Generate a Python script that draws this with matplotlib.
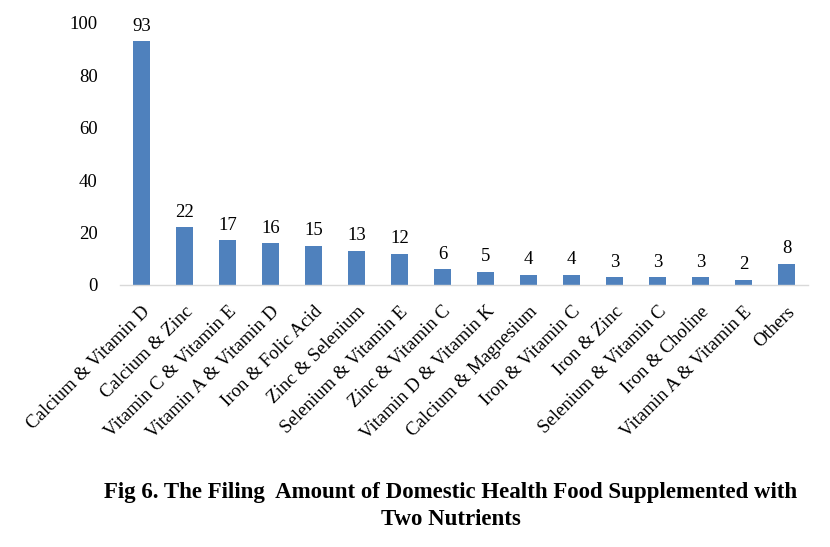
import matplotlib.pyplot as plt

categories = ['Calcium & Vitamin D', 'Calcium & Zinc', 'Vitamin C & Vitamin E',
              'Vitamin A & Vitamin D', 'Iron & Folic Acid', 'Zinc & Selenium',
              'Selenium & Vitamin E', 'Zinc & Vitamin C', 'Vitamin D & Vitamin K',
              'Calcium & Magnesium', 'Iron & Vitamin C', 'Iron & Zinc',
              'Selenium & Vitamin C', 'Iron & Choline', 'Vitamin A & Vitamin E', 'Others']
counts = [93, 22, 17, 16, 15, 13, 12, 6, 5, 4, 4, 3, 3, 3, 2, 8]
yticks = [0, 20, 40, 60, 80, 100]

plt.rcParams['font.family'] = ['Liberation Serif', 'DejaVu Serif']

fig = plt.figure(figsize=(8.3, 5.47), dpi=100)
ax = fig.add_axes([0.1446, 0.479, 0.8289, 0.479])

x = range(len(categories))
ax.bar(x, counts, width=0.4, color='#4f81bd')
for xi, v in zip(x, counts):
    ax.text(xi, v + 2.5, str(v), ha='center', va='bottom', fontsize=13.5)

ax.set_xlim(-0.5, len(categories) - 0.5)
ax.set_ylim(0, 100)
ax.set_yticks(yticks)
ax.set_yticklabels([str(t) for t in yticks], fontsize=13.5)
ax.set_xticks(list(x))
ax.set_xticklabels(categories, rotation=45, ha='right', rotation_mode='anchor', fontsize=13.5)
ax.tick_params(axis='x', length=0, pad=13)
ax.tick_params(axis='y', length=0, pad=16)

for s in ['top', 'right', 'left']:
    ax.spines[s].set_visible(False)
ax.spines['bottom'].set_color('#d9d9d9')
ax.spines['bottom'].set_linewidth(1.0)

fig.text(0.543, 0.1, 'Fig 6. The Filing  Amount of Domestic Health Food Supplemented with',
         ha='center', va='center', fontsize=16.5, fontweight='bold')
fig.text(0.543, 0.05, 'Two Nutrients', ha='center', va='center', fontsize=16.5, fontweight='bold')

fig.savefig('out.png', dpi=100)
